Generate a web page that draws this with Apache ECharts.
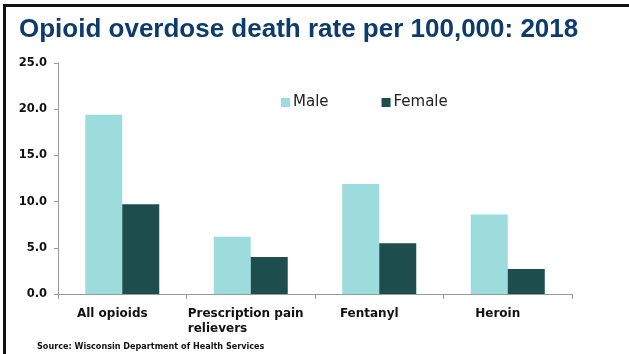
<!DOCTYPE html>
<html>
<head>
<meta charset="utf-8">
<script src="https://cdn.jsdelivr.net/npm/echarts@6/dist/echarts.min.js"></script>
<style>
  html, body { margin: 0; padding: 0; background: #ffffff; }
  #chart { width: 629px; height: 354px; }
</style>
</head>
<body>
<div id="chart"></div>
<script>
// Opioid overdose death rates per 100,000 by sex, Wisconsin 2018
const categories = ['All opioids', 'Prescription pain\nrelievers', 'Fentanyl', 'Heroin'];
const maleRates = [19.4, 6.2, 11.9, 8.6];
const femaleRates = [9.7, 4.0, 5.5, 2.7];
const seriesNames = ['Male', 'Female'];
const yTicks = { min: 0, max: 25, interval: 5 };

const MALE_COLOR = '#9cdcdc';
const FEMALE_COLOR = '#1e4d4d';
const AXIS_COLOR = '#9a9a9a';
const LABEL_FONT = '"DejaVu Sans", Verdana, sans-serif';

const chart = echarts.init(document.getElementById('chart'), null, { renderer: 'canvas' });

chart.setOption({
  animation: false,
  backgroundColor: '#ffffff',
  title: {
    text: 'Opioid overdose death rate per 100,000: 2018',
    left: 14,
    top: 12,
    textStyle: {
      fontFamily: '"Liberation Sans", Arial, sans-serif',
      fontWeight: 'bold',
      fontSize: 26,
      color: '#0d3b6d'
    }
  },
  legend: {
    data: seriesNames,
    left: 276,
    top: 90,
    itemWidth: 9,
    itemHeight: 9,
    itemGap: 53,
    icon: 'rect',
    textStyle: {
      fontFamily: LABEL_FONT,
      fontSize: 15,
      color: '#222222',
      padding: [0, 0, 0, -2]
    }
  },
  grid: {
    left: 58,
    right: 57,
    top: 63,
    bottom: 60,
    containLabel: false
  },
  xAxis: {
    type: 'category',
    data: categories,
    axisLine: { show: true, lineStyle: { color: AXIS_COLOR, width: 1 } },
    axisTick: { show: true, length: 5, alignWithLabel: false, lineStyle: { color: AXIS_COLOR } },
    axisLabel: {
      interval: 0,
      margin: 12,
      color: '#111111',
      fontFamily: LABEL_FONT,
      fontWeight: 'bold',
      fontSize: 12,
      lineHeight: 15,
      formatter: function (v) {
        return v.indexOf('\n') >= 0 ? '{ml|' + v + '}' : '{sl|' + v + '}';
      },
      rich: {
        sl: {
          fontFamily: LABEL_FONT, fontWeight: 'bold', fontSize: 12, lineHeight: 15,
          color: '#111111', padding: [0, 20, 0, 0]
        },
        ml: {
          fontFamily: LABEL_FONT, fontWeight: 'bold', fontSize: 12, lineHeight: 15,
          color: '#111111', width: 126, align: 'left'
        }
      }
    },
    splitLine: { show: false }
  },
  yAxis: {
    type: 'value',
    min: yTicks.min,
    max: yTicks.max,
    interval: yTicks.interval,
    axisLine: { show: true, lineStyle: { color: AXIS_COLOR, width: 1 } },
    axisTick: { show: true, length: 4, lineStyle: { color: AXIS_COLOR } },
    axisLabel: {
      margin: 11,
      color: '#111111',
      fontFamily: LABEL_FONT,
      fontWeight: 'bold',
      fontSize: 11.5,
      formatter: function (v) { return v.toFixed(1); }
    },
    splitLine: { show: false }
  },
  series: [
    {
      name: seriesNames[0],
      type: 'bar',
      data: maleRates,
      barWidth: 37,
      barGap: '0%',
      itemStyle: { color: MALE_COLOR }
    },
    {
      name: seriesNames[1],
      type: 'bar',
      data: femaleRates,
      barWidth: 37,
      barGap: '0%',
      itemStyle: { color: FEMALE_COLOR }
    }
  ],
  graphic: [
    {
      type: 'text',
      left: 37,
      top: 342,
      style: {
        text: 'Source: Wisconsin Department of Health Services',
        fontFamily: '"DejaVu Sans Condensed", "DejaVu Sans", sans-serif',
        fontWeight: 'bold',
        fontSize: 9,
        fill: '#111111'
      }
    },
    // frame lines along the top and left edges of the slide
    {
      type: 'rect',
      shape: { x: 3, y: 4, width: 626, height: 3 },
      style: { fill: '#111111' },
      silent: true
    },
    {
      type: 'rect',
      shape: { x: 3, y: 4, width: 3, height: 350 },
      style: { fill: '#111111' },
      silent: true
    }
  ]
});
</script>
</body>
</html>
